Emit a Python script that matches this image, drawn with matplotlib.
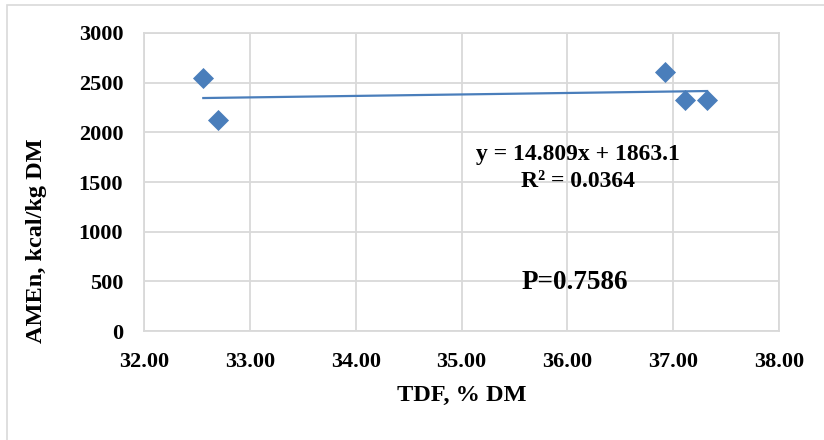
import matplotlib.pyplot as plt
import numpy as np
from matplotlib.patches import Rectangle

# data
tdf = [32.56, 32.70, 36.92, 37.11, 37.32]
amen = [2542, 2124, 2603, 2326, 2326]
slope = 14.809
intercept = 1863.1
x_ticks = [32, 33, 34, 35, 36, 37, 38]
y_ticks = [0, 500, 1000, 1500, 2000, 2500, 3000]

blue = "#4a7ebb"
grid = "#d9d9d9"

plt.rcParams["font.family"] = ["Liberation Serif", "DejaVu Serif"]
plt.rcParams["font.weight"] = "bold"

fig = plt.figure(figsize=(8.24, 4.4), dpi=100)
ax = fig.add_axes([0.1748, 0.2477, 0.7706, 0.6773])

# chart border
fig.patches.append(Rectangle((0.0085, -0.05), 1.1, 1.039, transform=fig.transFigure,
                             fill=False, edgecolor=grid, linewidth=1.2))

ax.scatter(tdf, amen, marker="D", s=115, color=blue, zorder=3, linewidths=0)

# linear trendline over the data range
xs = np.array([min(tdf), max(tdf)])
ax.plot(xs, slope * xs + intercept, color=blue, linewidth=1.6, zorder=2)

ax.set_xlim(32, 38)
ax.set_ylim(0, 3000)
ax.set_xticks(x_ticks)
ax.set_yticks(y_ticks)
ax.set_xticklabels([f"{v:.2f}" for v in x_ticks], fontsize=16, fontweight="bold")
ax.set_yticklabels([str(v) for v in y_ticks], fontsize=16, fontweight="bold")
ax.tick_params(axis="y", length=0, pad=15)
ax.tick_params(axis="x", length=0, pad=15)
ax.grid(True, color=grid, linewidth=1.3)
for s in ax.spines.values():
    s.set_color(grid)
    s.set_linewidth(1.3)

fig.text(462 / 824, 1 - 395 / 440, "TDF, % DM", ha="center", va="center",
         fontsize=17.5, fontweight="bold")
fig.text(37 / 824, 1 - 241 / 440, "AMEn, kcal/kg DM", ha="center", va="center",
         rotation=90, fontsize=17.5, fontweight="bold")

ax.text(36.1, 1778, "y = 14.809x + 1863.1", ha="center", va="center",
        fontsize=17, fontweight="bold")
ax.text(36.1, 1505, "R² = 0.0364", ha="center", va="center",
        fontsize=17, fontweight="bold")
ax.text(36.07, 490, "P=0.7586", ha="center", va="center", fontsize=19.5, fontweight="bold")

fig.savefig("out.png", dpi=100)
